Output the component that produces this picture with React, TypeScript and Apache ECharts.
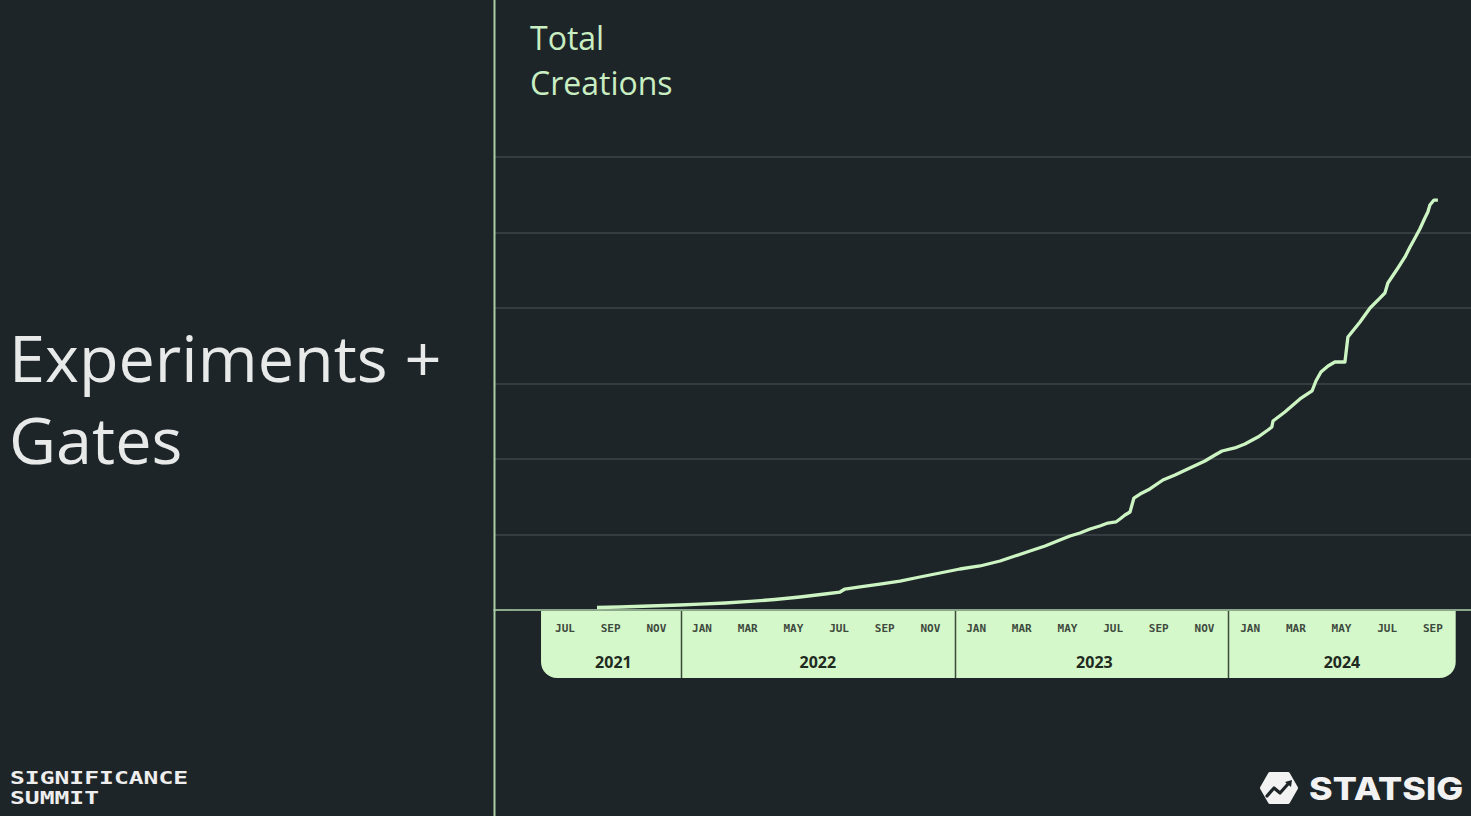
import React, { useEffect, useRef } from "react";
import * as echarts from "echarts";

// x values: months since Jan 2021 (0 = JAN 2021)
const monthIndex = [
  7.4, 8.41, 9.72, 11.03, 11.91, 13.01, 14.1, 15.19, 16.29, 17.38, 18.04, 18.26, 18.92, 19.79,
  20.67, 21.54, 22.42, 23.29, 24.17, 25.05, 25.7, 26.36, 27.02, 27.67, 28.11, 28.55, 28.99,
  29.42, 29.77, 30.12, 30.3, 30.52, 30.74, 30.91, 31.18, 31.61, 32.18, 32.71, 33.36, 34.02,
  34.46, 34.77, 35.33, 35.77, 36.34, 36.78, 36.95, 37.0, 37.52, 38.18, 38.71, 38.88, 39.1,
  39.41, 39.71, 40.15, 40.28, 40.81, 41.25, 41.68, 41.9, 42.03, 42.47, 42.78, 43.0, 43.17,
  43.43, 43.65, 43.78, 43.87, 44.05, 44.22,
];
const totalCreations = [
  330, 400, 530, 660, 790, 930, 1130, 1390, 1720, 2120, 2380, 2780, 3050, 3440,
  3840, 4370, 4900, 5430, 5830, 6490, 7150, 7810, 8480, 9270, 9800, 10200, 10730,
  11130, 11520, 11660, 12050, 12580, 12980, 14830, 15360, 16030, 17220, 17880, 18810, 19740,
  20530, 21060, 21460, 21990, 22910, 23840, 24240, 25030, 26230, 27950, 29010, 30330, 31520,
  32320, 32850, 32850, 36160, 38150, 40000, 41320, 41990, 43310, 45300, 46760, 48080, 49010,
  50460, 51920, 52720, 53640, 54300, 54300,
];

const monthNames = ["JAN", "FEB", "MAR", "APR", "MAY", "JUN", "JUL", "AUG", "SEP", "OCT", "NOV", "DEC"];
const monthTicks = [6, 8, 10, 12, 14, 16, 18, 20, 22, 24, 26, 28, 30, 32, 34, 36, 38, 40, 42, 44];
const yearLabels = ["2021", "2022", "2023", "2024"];
const yearLabelAt = [8.12, 17.07, 29.18, 40.02];
const yearBreaks = [11.06, 23.07, 35.03];
const bandRange = [4.95, 45.0];
const xRange = [2.891, 45.67];
const yMax = 60000;
const yStep = 10000;

const BG = "#1e2528";
const GREEN = "#cdf4c3";
const BAND = "#d4f8c9";

export default function App() {
  const ref = useRef<HTMLDivElement>(null);
  useEffect(() => {
    if (!ref.current) return;
    const chart = echarts.init(ref.current, undefined, { renderer: "svg" });
    chart.setOption({
      animation: false,
      backgroundColor: BG,
      grid: { left: 494, right: 0, top: 157, bottom: 206 },
      xAxis: [
        {
          type: "value",
          min: xRange[0],
          max: xRange[1],
          position: "bottom",
          axisLine: { show: true, lineStyle: { color: "#a9cea3", width: 1.5 } },
          axisTick: { show: false },
          splitLine: { show: false },
          axisLabel: {
            customValues: monthTicks,
            formatter: (v: number) => monthNames[((Math.round(v) % 12) + 12) % 12],
            margin: 13,
            color: "#3e4a3e",
            fontFamily: "DejaVu Sans Mono",
            fontWeight: "bold",
            fontSize: 11,
          },
        },
        {
          type: "value",
          min: xRange[0],
          max: xRange[1],
          position: "bottom",
          axisLine: { show: false },
          axisTick: { show: false },
          splitLine: { show: false },
          axisLabel: {
            customValues: yearLabelAt,
            formatter: (v: number) => {
              const i = yearLabelAt.findIndex((p) => Math.abs(p - v) < 0.01);
              return i >= 0 ? yearLabels[i] : "";
            },
            margin: 44,
            color: "#1f2a21",
            fontFamily: "Open Sans",
            fontWeight: "bold",
            fontSize: 16,
          },
        },
      ],
      yAxis: {
        type: "value",
        min: 0,
        max: yMax,
        interval: yStep,
        axisLine: { show: false },
        axisTick: { show: false },
        axisLabel: { show: false },
        splitLine: { show: true, lineStyle: { color: "#3c4548", width: 1.5 } },
      },
      series: [
        {
          type: "line",
          xAxisIndex: 0,
          data: monthIndex.map((m, i) => [m, totalCreations[i]]),
          showSymbol: false,
          symbol: "none",
          lineStyle: { color: GREEN, width: 3.3, join: "round" },
          z: 5,
        },
      ],
    });

    const px = (m: number) => chart.convertToPixel({ xAxisIndex: 0 }, m) as number;
    const b0 = px(bandRange[0]);
    const b1 = px(bandRange[1]);
    const elements: any[] = [
      {
        type: "rect",
        z: -2,
        shape: { x: b0, y: 611, width: b1 - b0, height: 67, r: [0, 0, 16, 16] },
        style: { fill: BAND },
      },
      ...yearBreaks.map((m) => ({
        type: "line",
        z: -1,
        shape: { x1: Math.round(px(m)) + 0.5, y1: 611, x2: Math.round(px(m)) + 0.5, y2: 678 },
        style: { stroke: "#3b4a3b", lineWidth: 1.5 },
      })),
      {
        type: "line",
        shape: { x1: 494.5, y1: 0, x2: 494.5, y2: 816 },
        style: { stroke: "#a9cfa5", lineWidth: 2 },
      },
      {
        type: "text",
        x: 530,
        y: 37,
        style: { text: "Total", fill: "#c9eec2", font: "32px 'Open Sans'", lineHeight: 36, verticalAlign: "middle" },
      },
      {
        type: "text",
        x: 530,
        y: 82,
        style: { text: "Creations", fill: "#c9eec2", font: "32px 'Open Sans'", lineHeight: 36, verticalAlign: "middle" },
      },
      {
        type: "text",
        x: 9,
        y: 357,
        scaleX: 1.012,
        style: { text: "Experiments +", fill: "#e8eaea", font: "64px 'Open Sans'", lineHeight: 66, verticalAlign: "middle" },
      },
      {
        type: "text",
        x: 9,
        y: 439,
        scaleX: 1.012,
        style: { text: "Gates", fill: "#e8eaea", font: "64px 'Open Sans'", lineHeight: 66, verticalAlign: "middle" },
      },
      {
        type: "text",
        x: 10,
        y: 778,
        scaleX: 1.37,
        style: { text: "SIGNIFICANCE", fill: "#eeeeee", font: "bold 18px 'DejaVu Sans Mono'", lineHeight: 18, verticalAlign: "middle" },
      },
      {
        type: "text",
        x: 10,
        y: 798,
        scaleX: 1.37,
        style: { text: "SUMMIT", fill: "#eeeeee", font: "bold 18px 'DejaVu Sans Mono'", lineHeight: 18, verticalAlign: "middle" },
      },
      {
        type: "polygon",
        shape: {
          points: [
            [1262, 788], [1270, 774], [1288, 774], [1296, 788], [1288, 802], [1270, 802],
          ],
        },
        style: { fill: "#f2f2f2", stroke: "#f2f2f2", lineWidth: 4, lineJoin: "round" },
      },
      {
        type: "polyline",
        shape: { points: [[1267, 796], [1274, 788], [1280, 793], [1288, 784]] },
        style: { stroke: BG, lineWidth: 3.2, fill: null, lineJoin: "round", lineCap: "round" },
      },
      {
        type: "polygon",
        shape: { points: [[1285, 782], [1292, 780], [1291, 787]] },
        style: { fill: BG },
      },
      {
        type: "text",
        x: 1309,
        y: 788,
        scaleX: 1.12,
        style: { text: "STATSIG", fill: "#f2f2f2", font: "800 32px Inter", verticalAlign: "middle" },
      },
    ];
    chart.setOption({ graphic: elements });
    return () => chart.dispose();
  }, []);
  return (
    <div
      ref={ref}
      style={{ position: "absolute", left: 0, top: 0, width: 1471, height: 816 }}
    />
  );
}
